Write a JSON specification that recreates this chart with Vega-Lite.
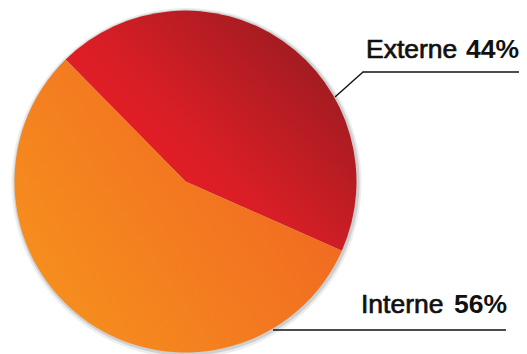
{
  "$schema": "https://vega.github.io/schema/vega-lite/v6.json",
  "width": 527,
  "height": 354,
  "padding": 0,
  "autosize": {"type": "fit", "contains": "padding"},
  "background": "white",
  "config": {"view": {"stroke": null}},
  "data": {"values": [
    {"category": "Externe", "value": 44, "pct": "44%"},
    {"category": "Interne", "value": 56, "pct": "56%"}
  ]},
  "transform": [
    {"stack": "value", "groupby": [], "sort": [{"field": "category", "order": "ascending"}], "as": ["t0", "t1"]}
  ],
  "layer": [
    {
      "mark": {"type": "arc", "x": 186.5, "y": 183, "radius": 175, "fill": "#9a9a9a", "opacity": 0.18, "stroke": null},
      "encoding": {
        "theta": {"field": "t0", "type": "quantitative", "scale": {"domain": [0, 100], "range": [-0.777, 5.506]}},
        "theta2": {"field": "t1"}
      }
    },
    {
      "mark": {"type": "arc", "x": 186.5, "y": 182.5, "radius": 173, "fill": "#8a8a8a", "opacity": 0.3, "stroke": null},
      "encoding": {
        "theta": {"field": "t0", "type": "quantitative", "scale": {"domain": [0, 100], "range": [-0.777, 5.506]}},
        "theta2": {"field": "t1"}
      }
    },
    {
      "transform": [{"filter": "datum.category === 'Externe'"}],
      "mark": {"type": "arc", "x": 185.5, "y": 181.5, "radius": 171, "stroke": null,
        "fill": {"gradient": "linear", "x1": 0.15, "y1": 0.75, "x2": 0.95, "y2": 0.1,
          "stops": [{"offset": 0, "color": "#ED1C24"}, {"offset": 0.35, "color": "#D91E26"}, {"offset": 1, "color": "#931B1F"}]}},
      "encoding": {
        "theta": {"field": "t0", "type": "quantitative", "scale": {"domain": [0, 100], "range": [-0.777, 5.506]}},
        "theta2": {"field": "t1"}
      }
    },
    {
      "transform": [{"filter": "datum.category === 'Interne'"}],
      "mark": {"type": "arc", "x": 185.5, "y": 181.5, "radius": 171, "stroke": null,
        "fill": {"gradient": "linear", "x1": 0, "y1": 0.95, "x2": 1, "y2": 0.35,
          "stops": [{"offset": 0, "color": "#F7941D"}, {"offset": 1, "color": "#F06522"}]}},
      "encoding": {
        "theta": {"field": "t0", "type": "quantitative", "scale": {"domain": [0, 100], "range": [-0.777, 5.506]}},
        "theta2": {"field": "t1"}
      }
    },
    {
      "transform": [{"filter": "datum.category === 'Externe'"}],
      "mark": {"type": "rule", "color": "#111111", "strokeWidth": 1.4},
      "encoding": {"x": {"value": 335}, "y": {"value": 97}, "x2": {"value": 363}, "y2": {"value": 72}}
    },
    {
      "transform": [{"filter": "datum.category === 'Externe'"}],
      "mark": {"type": "rule", "color": "#111111", "strokeWidth": 1.4},
      "encoding": {"x": {"value": 362.5}, "y": {"value": 72}, "x2": {"value": 519}, "y2": {"value": 72}}
    },
    {
      "transform": [{"filter": "datum.category === 'Interne'"}],
      "mark": {"type": "rule", "color": "#111111", "strokeWidth": 1.4},
      "encoding": {"x": {"value": 273}, "y": {"value": 330}, "x2": {"value": 506}, "y2": {"value": 330}}
    },
    {
      "transform": [{"filter": "datum.category === 'Externe'"}],
      "mark": {"type": "text", "x": 366, "y": 58, "align": "left", "baseline": "alphabetic", "font": "Liberation Sans", "fontSize": 26.5, "color": "#111111", "stroke": "#111111", "strokeWidth": 0.7},
      "encoding": {"text": {"field": "category"}}
    },
    {
      "transform": [{"filter": "datum.category === 'Externe'"}],
      "mark": {"type": "text", "x": 519, "y": 58, "align": "right", "baseline": "alphabetic", "font": "Liberation Sans", "fontSize": 26.5, "fontWeight": "bold", "color": "#111111"},
      "encoding": {"text": {"field": "pct"}}
    },
    {
      "transform": [{"filter": "datum.category === 'Interne'"}],
      "mark": {"type": "text", "x": 361, "y": 313, "align": "left", "baseline": "alphabetic", "font": "Liberation Sans", "fontSize": 26.5, "color": "#111111", "stroke": "#111111", "strokeWidth": 0.7},
      "encoding": {"text": {"field": "category"}}
    },
    {
      "transform": [{"filter": "datum.category === 'Interne'"}],
      "mark": {"type": "text", "x": 507, "y": 313, "align": "right", "baseline": "alphabetic", "font": "Liberation Sans", "fontSize": 26.5, "fontWeight": "bold", "color": "#111111"},
      "encoding": {"text": {"field": "pct"}}
    }
  ]
}
